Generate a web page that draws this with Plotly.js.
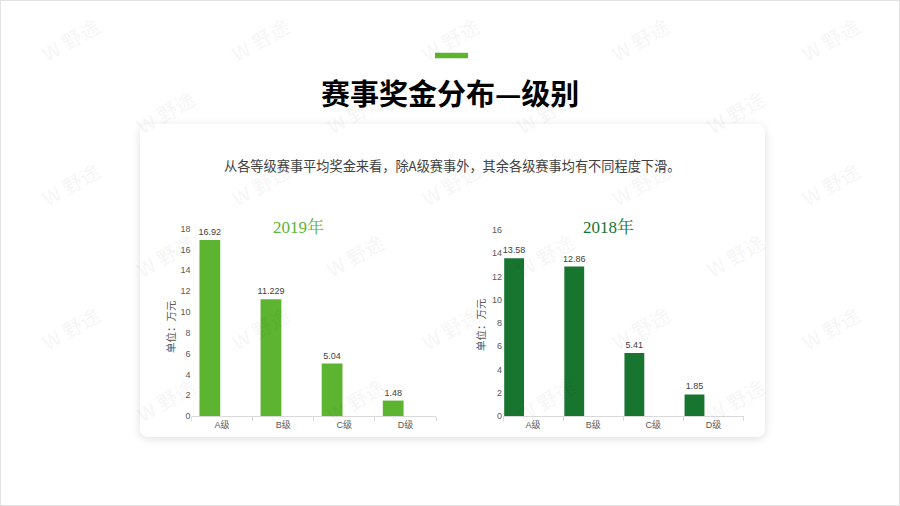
<!DOCTYPE html>
<html>
<head>
<meta charset="utf-8">
<script src="https://cdn.plot.ly/plotly-3.0.1.min.js"></script>
<style>
  html, body { margin: 0; padding: 0; background: #ffffff; }
  #wrap { position: relative; width: 900px; height: 506px; overflow: hidden; background: #ffffff; }
  #frame { position: absolute; left: 0; top: 0; width: 898px; height: 504px; border: 1px solid #e3e3e3; }
  #card { position: absolute; left: 140px; top: 124px; width: 625px; height: 313px; background: #ffffff;
          border-radius: 8px; box-shadow: 0 2px 10px rgba(0,0,0,0.13); }
  #chart { position: absolute; left: 0; top: 0; width: 900px; height: 506px; }
</style>
</head>
<body>
<div id="wrap">
  <div id="frame"></div>
  <div id="card"></div>
  <div id="chart"></div>
</div>
<script>
// ---- data ----
const categories = ['A级', 'B级', 'C级', 'D级'];
const values2019 = [16.92, 11.229, 5.04, 1.48];
const values2018 = [13.58, 12.86, 5.41, 1.85];
const yTicks2019 = [0, 2, 4, 6, 8, 10, 12, 14, 16, 18];
const yTicks2018 = [0, 2, 4, 6, 8, 10, 12, 14, 16];
const mainTitle = '赛事奖金分布—级别';
const subTitle = '从各等级赛事平均奖金来看，除A级赛事外，其余各级赛事均有不同程度下滑。';
const chartTitle2019 = '2019年';
const chartTitle2018 = '2018年';
const yAxisTitle = '单位：万元';
const watermarkText = 'W 野途';

// ---- helpers (pixel -> paper) ----
const W = 900, H = 506;
const px = x => x / W;
const py = y => 1 - y / H;

const sansFont = 'Liberation Sans, Noto Sans CJK SC, sans-serif';
const cjkFont = 'Noto Sans CJK SC, sans-serif';

const traces = [
  {
    type: 'bar', x: categories, y: values2019, xaxis: 'x', yaxis: 'y',
    marker: { color: '#5cb431' }, width: 0.34, offset: -0.37,
    text: values2019.map(String), textposition: 'outside', cliponaxis: false, constraintext: 'none',
    textfont: { family: sansFont, size: 9, color: '#404040' },
    hoverinfo: 'x+y', showlegend: false
  },
  {
    type: 'bar', x: categories, y: values2018, xaxis: 'x2', yaxis: 'y2',
    marker: { color: '#177530' }, width: 0.33, offset: -0.48,
    text: values2018.map(String), textposition: 'outside', cliponaxis: false, constraintext: 'none',
    textfont: { family: sansFont, size: 9, color: '#404040' },
    hoverinfo: 'x+y', showlegend: false
  }
];

const xCommon = {
  type: 'category', range: [-0.5, 3.5], showline: true, linecolor: '#d9d9d9', linewidth: 1,
  ticks: 'outside', tickson: 'boundaries', ticklen: 4, tickcolor: '#d9d9d9',
  showgrid: false, zeroline: false, fixedrange: true,
  tickfont: { family: sansFont, size: 9, color: '#595959' }
};
const yCommon = {
  showline: false, showgrid: false, zeroline: false, ticks: '', fixedrange: true,
  tickfont: { family: sansFont, size: 9, color: '#595959' }
};

const annotations = [];
function ann(x, y, text, font, extra) {
  annotations.push(Object.assign({
    xref: 'paper', yref: 'paper', x: px(x), y: py(y), showarrow: false,
    xanchor: 'center', yanchor: 'middle', text: text, font: font
  }, extra || {}));
}

// watermarks (decorative, faint) - only fully inside the picture
const wmFont = { family: cjkFont, size: 20, color: 'rgba(0,0,0,0.04)', weight: 'bold' };
for (let r = 0; r < 7; r++) {
  for (let c = 0; c < 5; c++) {
    const x = c * 190 + (r % 2) * 95 + 70;
    const y = 40 + r * 72;
    if (x < 50 || x > 850 || y > 470) continue;
    ann(x, y, watermarkText, wmFont, { textangle: -30 });
  }
}

ann(450, 92, mainTitle, { family: cjkFont, size: 29, color: '#000000', weight: 'bold' });
ann(452, 165, subTitle, { family: cjkFont, size: 13.2, color: '#404040' });
ann(298, 227, chartTitle2019, { family: 'Liberation Serif, Noto Serif CJK SC, Noto Sans CJK SC, serif', size: 17, color: '#5cb431' });
ann(608, 227, chartTitle2018, { family: 'Liberation Serif, Noto Serif CJK SC, Noto Sans CJK SC, serif', size: 17, color: '#177530' });
ann(170, 327, yAxisTitle, { family: cjkFont, size: 10.5, color: '#595959' }, { textangle: -90 });
ann(480, 325, yAxisTitle, { family: cjkFont, size: 10.5, color: '#595959' }, { textangle: -90 });

const layout = {
  width: W, height: H,
  margin: { l: 0, r: 0, t: 0, b: 0 },
  paper_bgcolor: 'rgba(0,0,0,0)', plot_bgcolor: 'rgba(0,0,0,0)',
  showlegend: false,
  font: { family: sansFont },
  xaxis: Object.assign({}, xCommon, { domain: [px(191.5), px(436)], anchor: 'y' }),
  yaxis: Object.assign({}, yCommon, { domain: [py(416), py(228.7)], range: [0, 18], tickvals: yTicks2019, anchor: 'x' }),
  xaxis2: Object.assign({}, xCommon, { domain: [px(503), px(743.5)], anchor: 'y2' }),
  yaxis2: Object.assign({}, yCommon, { domain: [py(416), py(230)], range: [0, 16], tickvals: yTicks2018, anchor: 'x2' }),
  shapes: [
    { type: 'rect', xref: 'paper', yref: 'paper', x0: px(435), x1: px(468), y0: py(58.3), y1: py(52.7),
      fillcolor: '#5cb431', line: { width: 0 } }
  ],
  annotations: annotations
};

Plotly.newPlot('chart', traces, layout, { displayModeBar: false, staticPlot: true });
</script>
</body>
</html>
